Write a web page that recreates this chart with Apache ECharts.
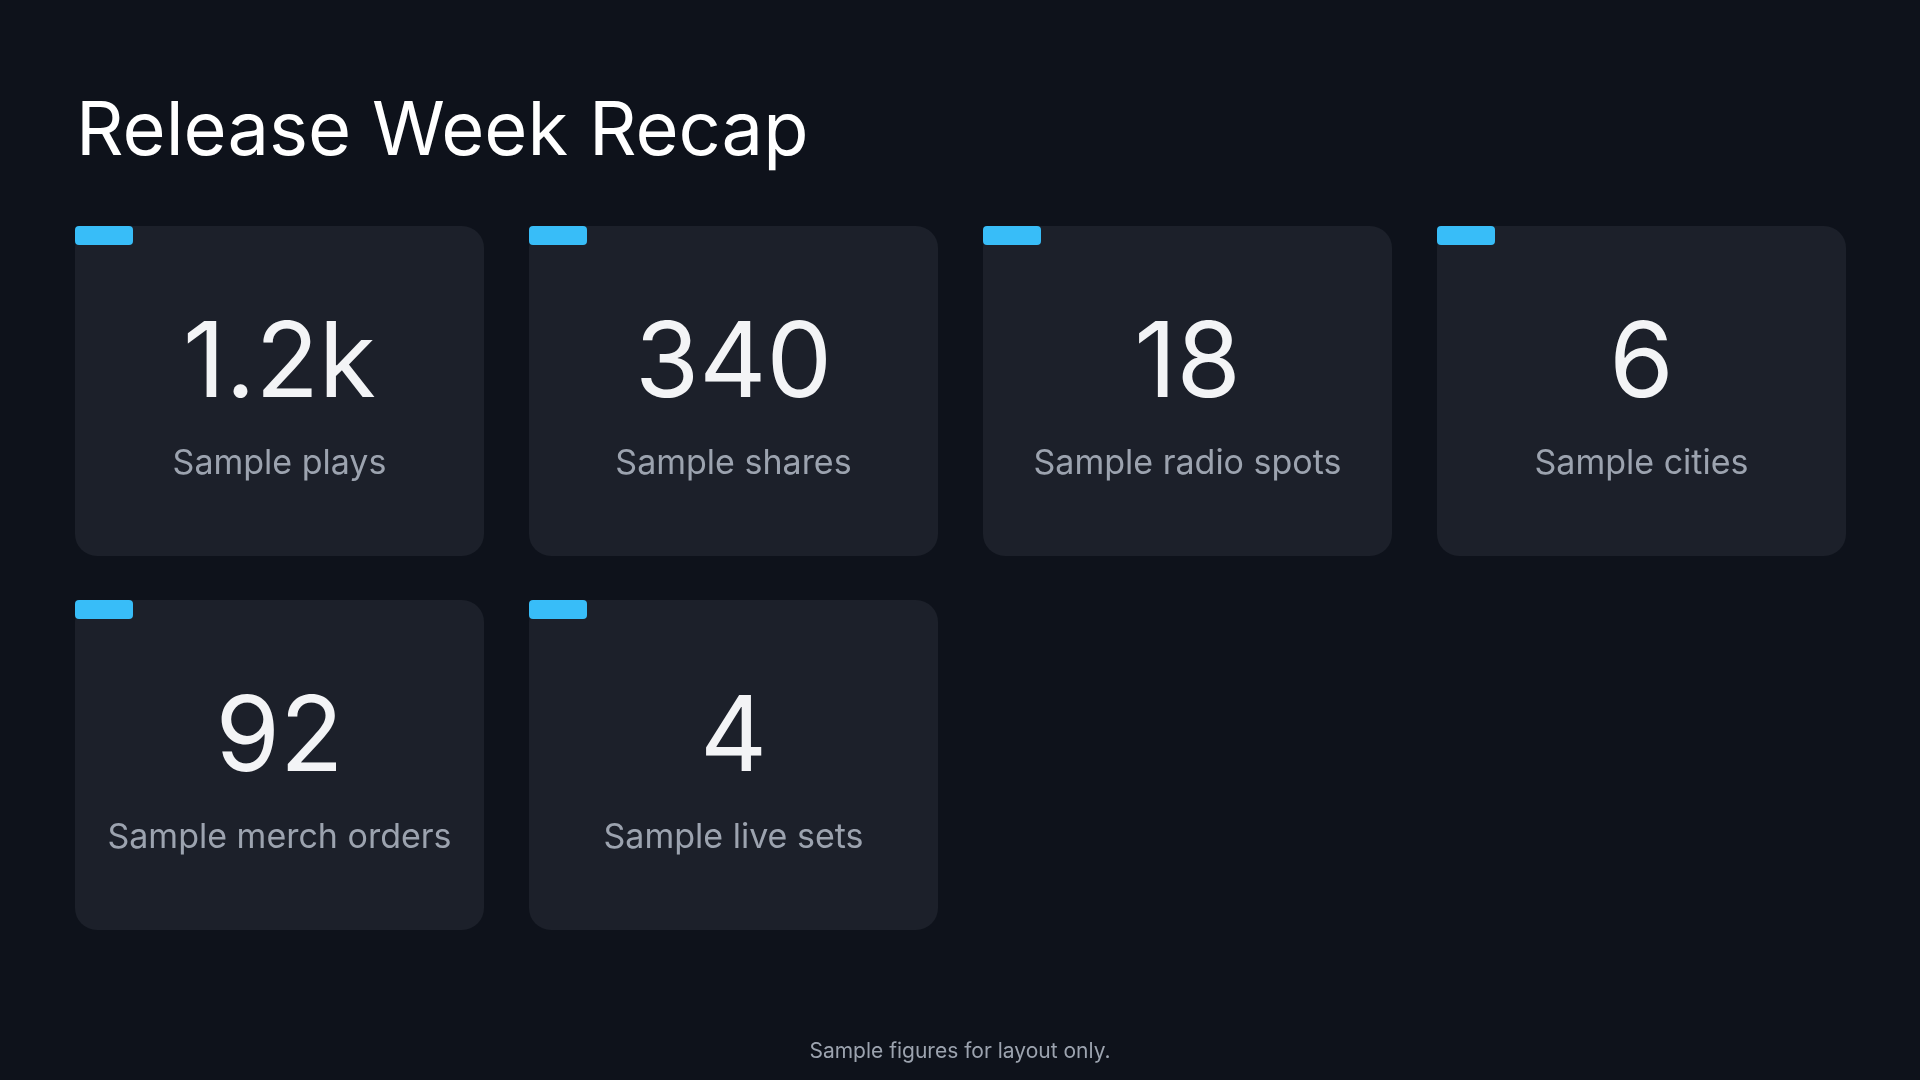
<!DOCTYPE html>
<html><head><meta charset="utf-8">
<style>html,body{margin:0;padding:0;background:#0e121b;}#c{width:1920px;height:1080px;}</style>
<script src="https://cdn.jsdelivr.net/npm/echarts@6/dist/echarts.min.js"></script>
</head><body><div id="c"></div>
<script>
const titleText = 'Release Week Recap';
const values = ['1.2k', '340', '18', '6', '92', '4'];
const labels = ['Sample plays', 'Sample shares', 'Sample radio spots', 'Sample cities', 'Sample merch orders', 'Sample live sets'];
const footerText = 'Sample figures for layout only.';

const chart = echarts.init(document.getElementById('c'));
const FONT = 'Inter, "Noto Sans", sans-serif';
const cardW = 409, cardH = 330, x0 = 75, y0 = 226, gapX = 45, gapY = 44;
const elements = [];
elements.push({type:'text', left:76, top:96, style:{text:titleText, fill:'#ffffff', font:'400 74px ' + FONT}});
values.forEach((v, i) => {
  const col = i % 4, row = Math.floor(i / 4);
  const x = x0 + col * (cardW + gapX), y = y0 + row * (cardH + gapY);
  elements.push({type:'group', x:x, y:y, children:[
    {type:'rect', shape:{x:0,y:0,width:cardW,height:cardH,r:22}, style:{fill:'#1c202a'}},
    {type:'rect', shape:{x:0,y:0,width:58,height:19,r:[4,4,4,4]}, style:{fill:'#38bdf8'}},
    {type:'text', x:cardW/2, y:140, style:{text:v, fill:'#f3f4f6', font:'400 104px ' + FONT, align:'center', verticalAlign:'middle'}},
    {type:'text', x:cardW/2, y:238, style:{text:labels[i], fill:'#9ca3af', font:'400 34px ' + FONT, align:'center', verticalAlign:'middle'}}
  ]});
});
elements.push({type:'text', x:960, y:1052, style:{text:footerText, fill:'#9ca3af', font:'400 21px ' + FONT, align:'center', verticalAlign:'middle'}});
chart.setOption({backgroundColor:'#0e121b', graphic:{elements:elements}});
</script></body></html>
